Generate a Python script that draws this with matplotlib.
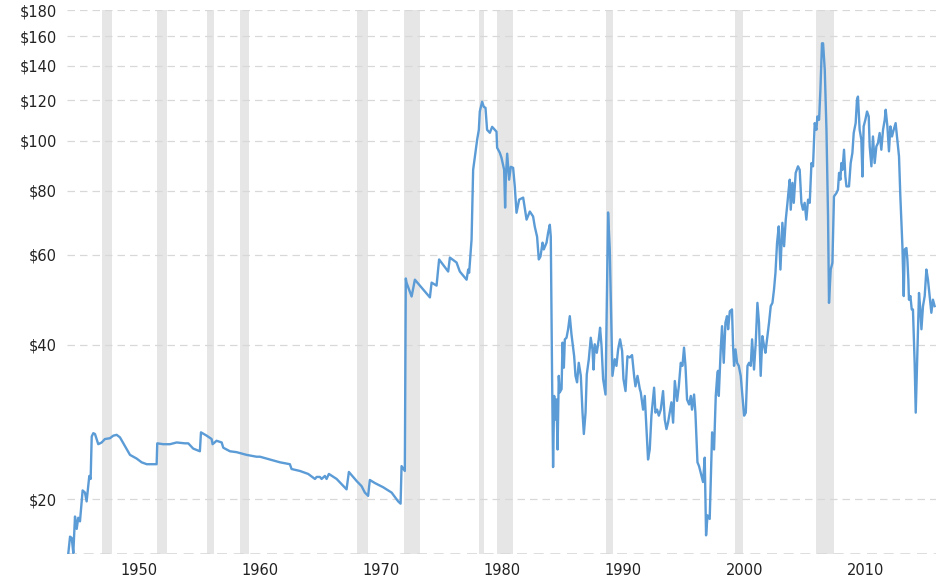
import matplotlib.pyplot as plt
from matplotlib.ticker import FixedLocator, FuncFormatter, NullLocator

# Price history (chart-year positions, dollars)
years = [
    1944.17, 1944.31, 1944.45, 1944.58, 1944.72, 1944.86, 1944.99, 1945.13, 1945.35, 1945.54,
    1945.68, 1945.90, 1946.01, 1946.10, 1946.23, 1946.37, 1946.64, 1946.92, 1947.19, 1947.61,
    1947.88, 1948.16, 1948.43, 1948.84, 1949.26, 1949.81, 1950.22, 1950.64, 1951.46, 1951.51,
    1952.01, 1952.56, 1953.11, 1953.80, 1954.07, 1954.48, 1955.03, 1955.12, 1955.59, 1956.00,
    1956.08, 1956.41, 1956.83, 1956.96, 1957.51, 1958.06, 1958.89, 1959.71, 1959.99, 1960.81,
    1961.64, 1962.46, 1962.60, 1963.29, 1963.97, 1964.53, 1964.67, 1964.94, 1965.08, 1965.35,
    1965.49, 1965.68, 1966.32, 1967.14, 1967.33, 1967.97, 1968.38, 1968.65, 1968.92, 1969.06,
    1969.48, 1970.16, 1970.86, 1971.40, 1971.60, 1971.68, 1971.95, 1972.03, 1972.09, 1972.51,
    1972.78, 1973.19, 1974.02, 1974.16, 1974.57, 1974.78, 1975.53, 1975.67, 1976.22, 1976.49,
    1977.05, 1977.18, 1977.26, 1977.46, 1977.59, 1977.81, 1977.92, 1978.06, 1978.14, 1978.33,
    1978.47, 1978.61, 1978.74, 1978.97, 1979.16, 1979.52, 1979.57, 1979.79, 1979.93, 1980.15,
    1980.23, 1980.29, 1980.40, 1980.56, 1980.70, 1980.89, 1981.03, 1981.17, 1981.39, 1981.72,
    1982.00, 1982.27, 1982.54, 1982.68, 1982.87, 1983.01, 1983.15, 1983.32, 1983.42, 1983.65,
    1983.78, 1983.92, 1984.00, 1984.11, 1984.19, 1984.28, 1984.39, 1984.47, 1984.56, 1984.66,
    1984.74, 1984.89, 1984.97, 1985.08, 1985.16, 1985.30, 1985.43, 1985.57, 1985.71, 1985.93,
    1986.04, 1986.17, 1986.31, 1986.48, 1986.62, 1986.73, 1986.87, 1986.97, 1987.14, 1987.30,
    1987.44, 1987.53, 1987.63, 1987.80, 1987.96, 1988.07, 1988.19, 1988.32, 1988.52, 1988.62,
    1988.73, 1988.87, 1989.09, 1989.28, 1989.42, 1989.56, 1989.72, 1989.89, 1990.00, 1990.17,
    1990.33, 1990.52, 1990.71, 1990.88, 1990.99, 1991.16, 1991.35, 1991.43, 1991.62, 1991.76,
    1991.90, 1992.03, 1992.17, 1992.31, 1992.53, 1992.64, 1992.78, 1992.92, 1993.08, 1993.27,
    1993.41, 1993.55, 1993.68, 1993.96, 1994.10, 1994.24, 1994.43, 1994.57, 1994.73, 1994.87,
    1995.00, 1995.12, 1995.25, 1995.42, 1995.56, 1995.66, 1995.83, 1995.94, 1996.11, 1996.24,
    1996.44, 1996.57, 1996.71, 1996.82, 1996.94, 1997.12, 1997.32, 1997.48, 1997.62, 1997.76,
    1997.81, 1997.87, 1998.03, 1998.14, 1998.28, 1998.42, 1998.55, 1998.64, 1998.78, 1998.96,
    1999.05, 1999.13, 1999.25, 1999.38, 1999.52, 1999.68, 1999.82, 1999.96, 2000.10, 2000.24,
    2000.37, 2000.51, 2000.62, 2000.78, 2000.92, 2001.06, 2001.19, 2001.33, 2001.47, 2001.61,
    2001.72, 2001.89, 2002.02, 2002.16, 2002.30, 2002.43, 2002.55, 2002.68, 2002.82, 2002.96,
    2003.12, 2003.26, 2003.40, 2003.54, 2003.64, 2003.73, 2003.81, 2003.95, 2004.06, 2004.22,
    2004.41, 2004.55, 2004.69, 2004.82, 2004.96, 2005.10, 2005.24, 2005.38, 2005.52, 2005.65,
    2005.79, 2005.93, 2006.01, 2006.15, 2006.26, 2006.39, 2006.48, 2006.62, 2006.76, 2006.89,
    2006.97, 2007.11, 2007.25, 2007.38, 2007.58, 2007.71, 2007.80, 2007.91, 2007.99, 2008.08,
    2008.21, 2008.32, 2008.41, 2008.62, 2008.76, 2008.90, 2009.01, 2009.17, 2009.28, 2009.36,
    2009.50, 2009.64, 2009.73, 2009.83, 2009.97, 2010.11, 2010.25, 2010.33, 2010.47, 2010.60,
    2010.74, 2010.88, 2011.01, 2011.15, 2011.29, 2011.43, 2011.57, 2011.65, 2011.79, 2011.92,
    2012.04, 2012.17, 2012.31, 2012.47, 2012.61, 2012.75, 2012.86, 2013.03, 2013.14, 2013.22,
    2013.36, 2013.44, 2013.52, 2013.57, 2013.69, 2013.80, 2013.90, 2014.04, 2014.13, 2014.23,
    2014.40, 2014.51, 2014.60, 2014.73, 2014.87, 2015.01, 2015.14, 2015.28, 2015.42, 2015.55,
    2015.69,
]
prices = [
    15.7, 16.9, 16.8, 15.7, 18.5, 17.5, 18.4, 18.1, 20.8, 20.6,
    19.8, 22.2, 21.9, 26.5, 26.9, 26.8, 25.6, 25.8, 26.2, 26.3,
    26.6, 26.7, 26.4, 25.4, 24.4, 24.0, 23.6, 23.4, 23.4, 25.7,
    25.6, 25.6, 25.8, 25.7, 25.7, 25.1, 24.8, 27.0, 26.6, 26.2,
    25.6, 26.0, 25.8, 25.2, 24.8, 24.7, 24.4, 24.2, 24.2, 23.9,
    23.6, 23.4, 22.9, 22.7, 22.4, 21.9, 22.1, 22.1, 21.9, 22.2,
    21.9, 22.4, 21.9, 20.9, 22.6, 21.7, 21.2, 20.6, 20.3, 21.8,
    21.5, 21.1, 20.6, 19.8, 19.6, 23.2, 22.7, 53.9, 52.9, 49.7,
    53.6, 52.2, 49.5, 52.9, 52.2, 58.7, 55.6, 59.2, 57.9, 55.6,
    53.6, 56.1, 55.3, 64.2, 87.8, 96.1, 100.5, 105.1, 114.1, 119.2,
    116.5, 116.0, 105.1, 103.7, 106.5, 104.2, 97.0, 94.8, 92.7, 87.8,
    74.1, 85.1, 94.4, 84.0, 89.0, 88.6, 81.4, 72.4, 76.8, 77.5,
    70.2, 72.8, 71.2, 68.0, 65.0, 58.7, 59.5, 63.3, 61.4, 63.3,
    66.2, 68.6, 65.0, 34.3, 23.1, 31.8, 28.6, 31.3, 25.0, 34.8,
    32.3, 32.8, 40.4, 36.1, 41.0, 41.3, 42.9, 45.5, 41.9, 38.0,
    34.8, 33.8, 36.9, 34.8, 29.5, 26.8, 29.5, 35.0, 37.5, 41.3,
    39.2, 35.8, 40.1, 38.6, 41.0, 43.2, 39.8, 34.3, 32.0, 47.6,
    72.5, 61.4, 34.8, 37.5, 36.4, 39.2, 41.0, 38.9, 34.3, 32.5,
    38.0, 37.8, 38.2, 34.8, 33.2, 34.8, 32.8, 32.3, 29.9, 31.8,
    27.4, 23.9, 25.0, 29.1, 33.0, 29.5, 29.9, 29.1, 29.9, 32.5,
    28.6, 27.4, 28.2, 30.9, 28.2, 34.0, 31.1, 33.2, 36.9, 36.4,
    39.5, 36.4, 31.3, 30.6, 31.8, 29.9, 32.0, 29.5, 23.6, 23.2,
    22.2, 21.6, 24.1, 17.0, 18.6, 18.3, 27.0, 25.0, 31.8, 35.3,
    35.6, 31.8, 39.2, 43.5, 36.9, 44.2, 45.5, 42.9, 46.5, 46.9,
    39.8, 36.4, 39.2, 36.9, 36.4, 34.8, 31.8, 29.1, 29.5, 36.4,
    36.9, 36.4, 41.0, 35.8, 40.4, 48.3, 44.2, 34.8, 41.6, 39.8,
    38.6, 41.6, 44.2, 47.6, 48.3, 51.3, 55.3, 63.2, 68.1, 56.1,
    69.2, 62.3, 70.2, 75.7, 80.3, 84.0, 73.4, 82.8, 75.7, 86.6,
    89.2, 87.8, 75.7, 73.4, 75.7, 70.2, 76.8, 75.7, 90.5, 89.2,
    108.3, 105.1, 111.6, 109.9, 125.7, 155.0, 155.0, 137.5, 105.1, 71.2,
    48.3, 56.1, 57.8, 77.9, 79.1, 80.3, 86.6, 84.0, 90.5, 87.8,
    96.1, 85.2, 81.5, 81.5, 90.5, 94.7, 103.6, 108.3, 120.2, 122.0,
    105.1, 100.5, 85.2, 106.7, 109.9, 114.1, 111.6, 97.5, 89.2, 102.0,
    90.5, 97.5, 99.0, 103.6, 96.1, 105.1, 109.9, 115.0, 106.7, 95.4,
    106.7, 102.0, 105.1, 108.3, 100.5, 93.2, 77.9, 62.3, 49.8, 61.4,
    61.8, 58.7, 53.6, 49.0, 49.8, 46.9, 46.9, 36.9, 29.5, 35.8,
    50.5, 46.9, 42.9, 47.6, 49.8, 56.1, 53.6, 49.8, 46.2, 49.0,
    47.6,
]

# Shaded recession periods (start, end)
recession_start = [1946.92, 1951.51, 1955.64, 1958.34, 1968.02, 1971.90, 1978.09, 1979.57, 1988.52, 1999.19, 2005.93]
recession_end = [1947.80, 1952.29, 1956.19, 1959.10, 1968.92, 1973.19, 1978.50, 1980.84, 1989.14, 1999.87, 2007.36]

y_ticks = [20, 40, 60, 80, 100, 120, 140, 160, 180]
x_ticks = [1950, 1960, 1970, 1980, 1990, 2000, 2010]

fig = plt.figure(figsize=(9.4, 5.82), dpi=100)
ax = fig.add_axes([0.0709, 0.0473, 0.9248, 0.9355])

for s, e in zip(recession_start, recession_end):
    ax.axvspan(s, e, color='#e6e6e6', lw=0, zorder=0)

ax.plot(years, prices, color='#5b9bd6', lw=1.7, zorder=3)

ax.set_yscale('log')
ax.set_ylim(15.6, 180)
ax.set_xlim(1944.03, 2015.8)

ax.yaxis.set_major_locator(FixedLocator(y_ticks))
ax.yaxis.set_minor_locator(NullLocator())
ax.yaxis.set_major_formatter(FuncFormatter(lambda v, p: '${:d}'.format(int(round(v)))))
ax.set_xticks(x_ticks)
ax.set_xticklabels([str(t) for t in x_ticks])

ax.grid(axis='y', color='#d8d8d8', linestyle=(0, (6, 4)), lw=0.9, zorder=1)
ax.axhline(15.6, color='#d8d8d8', linestyle=(0, (6, 4)), lw=1.2, zorder=1)
for sp in ax.spines.values():
    sp.set_visible(False)
ax.tick_params(axis='both', length=0, labelsize=10.5, colors='#222222')
ax.tick_params(axis='y', pad=7)
ax.tick_params(axis='x', pad=6)

fig.savefig('out.png', dpi=100)
